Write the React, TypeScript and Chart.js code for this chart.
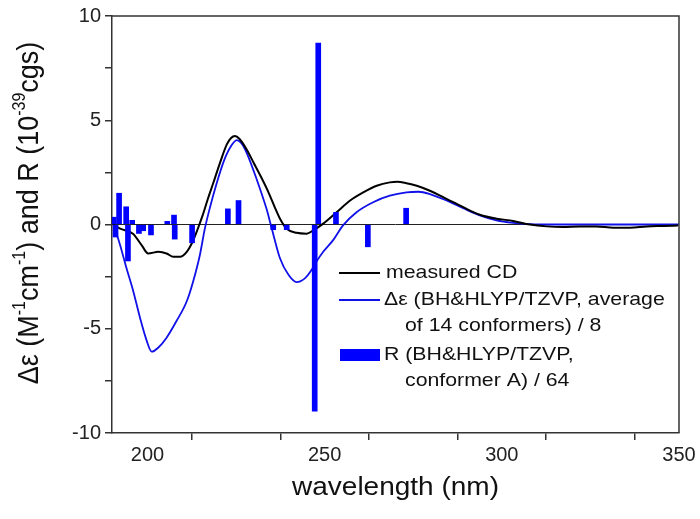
import React, { useEffect, useRef } from 'react';
import { Chart, registerables } from 'chart.js';

Chart.register(...registerables);

// Measured CD spectrum
const cdWavelengths = [190.3, 192.3, 195.9, 198.4, 200.2, 203.1, 205.4, 207.3, 209.2, 211.1, 212.5, 214.0, 215.5, 217.0, 218.6, 220.5, 222.4, 223.6, 224.7, 226.0, 228.0, 230.0, 232.0, 234.0, 236.0, 237.4, 239.3, 242.1, 244.9, 246.8, 249.6, 253.4, 257.2, 260.9, 264.7, 268.4, 270.5, 273.1, 276.0, 279.7, 284.4, 289.1, 293.8, 298.5, 303.2, 307.9, 312.7, 317.3, 322.0, 326.7, 331.5, 336.2, 340.9, 345.6, 349.7];
const cdValues = [-0.02, -0.2, -0.44, -1.0, -1.39, -1.31, -1.39, -1.55, -1.55, -1.31, -0.91, -0.3, 0.4, 1.2, 2.0, 2.97, 3.84, 4.15, 4.24, 4.1, 3.6, 2.95, 2.3, 1.6, 0.8, 0.28, -0.2, -0.4, -0.44, -0.28, 0.04, 0.59, 1.15, 1.54, 1.86, 2.02, 2.05, 1.98, 1.86, 1.62, 1.23, 0.83, 0.47, 0.28, 0.17, 0.0, -0.09, -0.12, -0.09, -0.09, -0.15, -0.15, -0.09, -0.07, -0.05];

// Calculated Δε (average of 14 conformers) / 8
const calcWavelengths = [190.8, 192.3, 194.1, 196.0, 197.9, 199.8, 201.2, 203.1, 205.4, 208.2, 211.1, 212.9, 214.8, 216.2, 217.7, 219.5, 221.4, 223.3, 225.2, 226.5, 228.0, 230.8, 233.6, 235.1, 237.4, 239.8, 242.1, 244.5, 246.3, 247.7, 249.6, 252.4, 255.2, 259.0, 263.7, 268.4, 273.1, 276.5, 279.7, 284.4, 289.1, 293.8, 298.5, 303.2, 307.9, 315.0, 330.0, 350.0];
const calcValues = [-0.2, -0.99, -2.1, -3.2, -4.47, -5.58, -6.1, -5.9, -5.43, -4.63, -3.68, -2.73, -1.46, -0.2, 0.85, 1.95, 2.97, 3.68, 4.05, 3.9, 3.44, 2.18, 0.75, -0.2, -1.62, -2.41, -2.76, -2.57, -2.18, -1.78, -1.31, -0.75, -0.04, 0.59, 1.07, 1.38, 1.54, 1.57, 1.46, 1.15, 0.78, 0.44, 0.2, 0.08, 0.02, 0.0, 0.0, 0.0];

// Rotational strengths R (conformer A) / 64
const barWavelengths = [190.5, 191.0, 192.0, 194.0, 194.5, 195.7, 197.6, 198.8, 201.0, 205.6, 207.5, 207.7, 212.6, 222.7, 225.7, 235.5, 239.3, 247.2, 248.2, 253.2, 262.2, 273.0];
const barValues = [0.35, -0.6, 1.5, 0.85, -1.75, 0.2, -0.43, -0.3, -0.5, 0.15, 0.45, -0.7, -0.88, 0.75, 1.15, -0.25, -0.25, -8.95, 8.7, 0.58, -1.07, 0.78];

const xTickValues = [200, 225, 250, 275, 300, 325, 350];
const xTickLabels = [200, 250, 300, 350];
const yTickValues = [-10, -7.5, -5, -2.5, 0, 2.5, 5, 7.5, 10];
const yTickLabels = [-10, -5, 0, 5, 10];

const xTitle = 'wavelength (nm)';
const yTitleParts: [string, boolean][] = [
  ['Δε (M', false], ['-1', true], ['cm', false], ['-1', true], [') and R (10', false], ['-39', true], ['cgs)', false],
];
const legendCD = 'measured CD';
const legendCalc1 = 'Δε (BH&HLYP/TZVP, average';
const legendCalc2 = 'of 14 conformers) / 8';
const legendR1 = 'R (BH&HLYP/TZVP,';
const legendR2 = 'conformer A) / 64';

const FONT = '"Liberation Sans", Arial, sans-serif';
const AXIS = '#333333';
const BLUE = '#0000ff';
const SX = 1.12;

function stretchedText(ctx: CanvasRenderingContext2D, text: string, x: number, y: number, size: number, align: 'left' | 'center' = 'left') {
  ctx.save();
  ctx.font = `${size}px ${FONT}`;
  ctx.textBaseline = 'middle';
  ctx.textAlign = 'left';
  const w = ctx.measureText(text).width * SX;
  const x0 = align === 'center' ? x - w / 2 : x;
  ctx.translate(x0, y);
  ctx.scale(SX, 1);
  ctx.fillStyle = '#111';
  ctx.fillText(text, 0, 0);
  ctx.restore();
}

const decorPlugin = {
  id: 'decor',
  beforeDatasetsDraw(chart: any) {
    const { ctx, chartArea, scales } = chart;
    const y0 = scales.y.getPixelForValue(0);
    ctx.save();
    ctx.strokeStyle = '#222';
    ctx.lineWidth = 1;
    ctx.beginPath();
    ctx.moveTo(chartArea.left, y0);
    ctx.lineTo(chartArea.right, y0);
    ctx.stroke();
    ctx.restore();
  },
  afterDraw(chart: any) {
    const { ctx, chartArea } = chart;
    // frame top/right
    ctx.save();
    ctx.strokeStyle = AXIS;
    ctx.lineWidth = 1.5;
    ctx.beginPath();
    ctx.moveTo(chartArea.left, chartArea.top);
    ctx.lineTo(chartArea.right, chartArea.top);
    ctx.lineTo(chartArea.right, chartArea.bottom);
    ctx.stroke();
    ctx.restore();

    // x title
    stretchedText(ctx, xTitle, (chartArea.left + chartArea.right) / 2, 488, 25, 'center');

    // y title with superscripts
    ctx.save();
    const main = 27, sup = 16;
    let total = 0;
    for (const [t, s] of yTitleParts) {
      ctx.font = `${s ? sup : main}px ${FONT}`;
      total += ctx.measureText(t).width;
    }
    ctx.translate(30, 213);
    ctx.rotate(-Math.PI / 2);
    ctx.scale(1, SX);
    ctx.fillStyle = '#111';
    ctx.textBaseline = 'middle';
    let cx = -total / 2;
    for (const [t, s] of yTitleParts) {
      ctx.font = `${s ? sup : main}px ${FONT}`;
      ctx.fillText(t, cx, s ? -9 : 0);
      cx += ctx.measureText(t).width;
    }
    ctx.restore();

    // legend
    ctx.save();
    ctx.lineWidth = 2;
    ctx.strokeStyle = '#000';
    ctx.beginPath();
    ctx.moveTo(339, 273);
    ctx.lineTo(380, 273);
    ctx.stroke();
    ctx.strokeStyle = '#1010e8';
    ctx.lineWidth = 1.8;
    ctx.beginPath();
    ctx.moveTo(339, 300);
    ctx.lineTo(380, 300);
    ctx.stroke();
    ctx.fillStyle = BLUE;
    ctx.fillRect(340, 349, 40, 12);
    ctx.restore();
    stretchedText(ctx, legendCD, 386, 273, 19);
    stretchedText(ctx, legendCalc1, 384, 300, 19);
    stretchedText(ctx, legendCalc2, 405, 326, 19);
    stretchedText(ctx, legendR1, 384, 355, 19);
    stretchedText(ctx, legendR2, 405, 381, 19);
  },
};

export default function App() {
  const ref = useRef<HTMLCanvasElement | null>(null);
  useEffect(() => {
    if (!ref.current) return;
    const chart = new Chart(ref.current, {
      type: 'line',
      data: {
        datasets: [
          {
            type: 'bar',
            label: 'R',
            data: barWavelengths.map((x, i) => ({ x, y: barValues[i] })),
            backgroundColor: BLUE,
            borderWidth: 0,
            barThickness: 5,
            order: 0,
          } as any,
          {
            type: 'line',
            label: 'measured CD',
            data: cdWavelengths.map((x, i) => ({ x, y: cdValues[i] })),
            borderColor: '#000',
            borderWidth: 2,
            pointRadius: 0,
            cubicInterpolationMode: 'monotone',
            order: 1,
          },
          {
            type: 'line',
            label: 'Δε',
            data: calcWavelengths.map((x, i) => ({ x, y: calcValues[i] })),
            borderColor: '#1010e8',
            borderWidth: 1.8,
            pointRadius: 0,
            cubicInterpolationMode: 'monotone',
            order: 2,
          },
        ],
      },
      options: {
        animation: false,
        responsive: true,
        maintainAspectRatio: false,
        layout: { padding: { left: 0, top: 12, right: 21, bottom: 0 } },
        plugins: { legend: { display: false }, tooltip: { enabled: false } },
        scales: {
          x: {
            type: 'linear',
            min: 190,
            max: 350,
            offset: false,
            afterBuildTicks: (s: any) => { s.ticks = xTickValues.map((v) => ({ value: v })); },
            afterFit: (s: any) => { s.height = 86; },
            ticks: {
              callback: (v: any) => (xTickLabels.includes(Number(v)) ? String(v) : ''),
              font: { size: 20, family: FONT },
              color: '#222',
              maxRotation: 0,
              autoSkip: false,
              padding: 3,
            },
            grid: { drawOnChartArea: false, tickLength: 7, color: AXIS, lineWidth: 1.5 },
            border: { color: AXIS, width: 1.5 },
          },
          y: {
            type: 'linear',
            min: -10,
            max: 10,
            afterBuildTicks: (s: any) => { s.ticks = yTickValues.map((v) => ({ value: v })); },
            afterFit: (s: any) => { s.width = 112; },
            ticks: {
              callback: (v: any) => (yTickLabels.includes(Number(v)) ? String(v) : ''),
              font: { size: 20, family: FONT },
              color: '#222',
              autoSkip: false,
              padding: 4,
            },
            grid: { drawOnChartArea: false, tickLength: 7, color: AXIS, lineWidth: 1.5 },
            border: { color: AXIS, width: 1.5 },
          },
        },
      },
      plugins: [decorPlugin],
    });
    return () => chart.destroy();
  }, []);

  return (
    <div style={{ position: 'fixed', left: 0, top: 0, width: 700, height: 519, background: '#fff' }}>
      <canvas ref={ref} />
    </div>
  );
}
